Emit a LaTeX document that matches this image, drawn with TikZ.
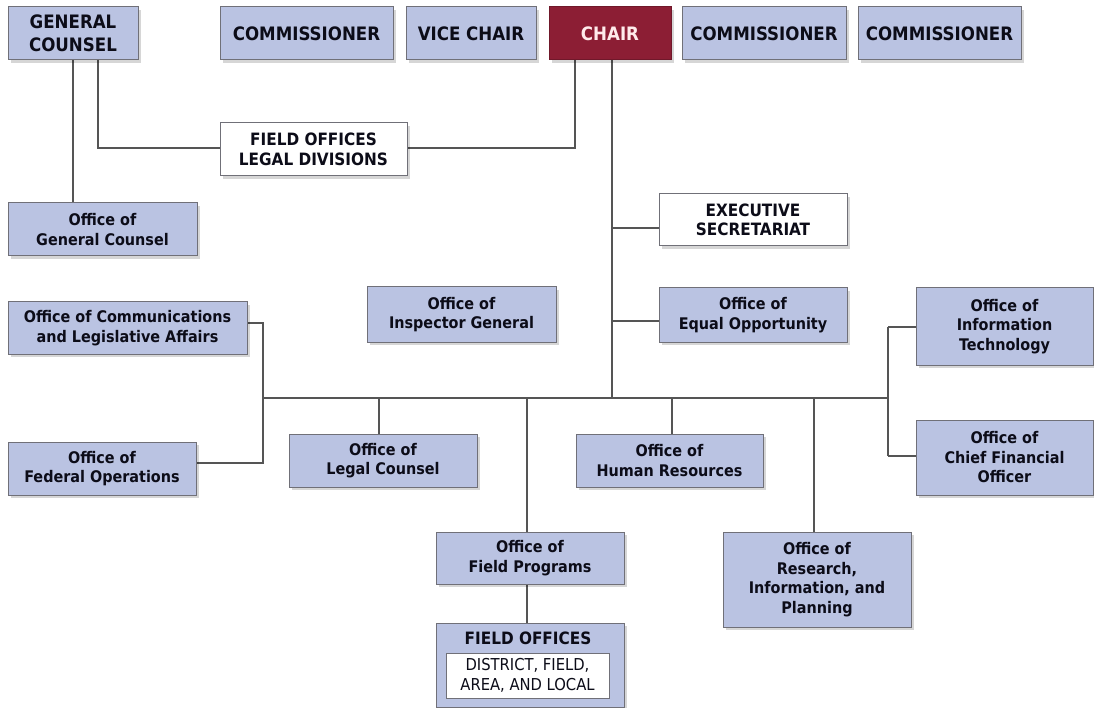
\documentclass[tikz,border=0pt]{standalone}
\usepackage{fontspec}
\setmainfont{DejaVu Sans Condensed}
\usetikzlibrary{shadows}
\definecolor{boxfill}{RGB}{186,195,226}
\definecolor{bordergray}{RGB}{112,112,120}
\definecolor{linegray}{RGB}{85,85,85}
\definecolor{chaircol}{RGB}{140,30,52}
\definecolor{textcol}{RGB}{12,12,24}
\tikzset{
  box/.style={draw=bordergray, line width=1pt, fill=boxfill, align=center,
    inner sep=0pt, text=textcol,
    font=\bfseries\fontsize{16}{19.5}\selectfont,
    drop shadow={shadow xshift=3pt, shadow yshift=-3pt, fill=black, opacity=0.16}},
  capbox/.style={box, font=\bfseries\fontsize{18.5}{23}\selectfont},
  wbox/.style={box, fill=white, font=\bfseries\fontsize{17}{19.5}\selectfont},
  chairbox/.style={capbox, fill=chaircol, draw=chaircol!80!black, text=white!92!red},
  conn/.style={draw=linegray, line width=1.3pt}
}
\begin{document}
\begin{tikzpicture}[x=1pt, y=-1pt]
\useasboundingbox (0,0) rectangle (1094,708);
% coordinates on connectors
\coordinate (busL) at (263,398);
\coordinate (busR) at (888,398);
\coordinate (trunk) at (612,398);
\coordinate (t1) at (612,228);
\coordinate (t2) at (612,321);
\coordinate (lA) at (263,323);
\coordinate (lB) at (263,463);
\coordinate (d1) at (379,398);
\coordinate (d2) at (527,398);
\coordinate (d3) at (672,398);
\coordinate (d4) at (814,398);
\coordinate (rA) at (888,327);
\coordinate (rB) at (888,456);
\coordinate (gcA) at (73,60);
\coordinate (gcB) at (98,60);
\coordinate (chA) at (575,60);
\coordinate (chB) at (612,60);
\coordinate (fpA) at (527,584);

% connectors
\draw[conn] (gcA) -- (gcA |- 0,203);
\draw[conn] (gcB) |- (220,148);
\draw[conn] (chA) |- (407,148);
\draw[conn] (chB) -- (trunk);
\draw[conn] (t1) -- (t1 -| 659,0);
\draw[conn] (t2) -- (t2 -| 659,0);
\draw[conn] (busL) -- (busR);
\draw[conn] (247,323) -- (lA) -- (lB) -- (196,463);
\draw[conn] (rA) -- (rB);
\draw[conn] (916,327) -- (rA);
\draw[conn] (916,456) -- (rB);
\draw[conn] (d1) -- (d1 |- 0,434);
\draw[conn] (d2) -- (d2 |- 0,532);
\draw[conn] (d3) -- (d3 |- 0,434);
\draw[conn] (d4) -- (d4 |- 0,532);
\draw[conn] (fpA) -- (fpA |- 0,623);

% top row
\node[capbox, minimum width=130pt, minimum height=53pt] (gc) at (73,33.5) {GENERAL\\COUNSEL};
\node[capbox, minimum width=173pt, minimum height=53pt] (com1) at (306.5,33.5) {COMMISSIONER};
\node[capbox, minimum width=130pt, minimum height=53pt] (vice) at (471,33.5) {VICE CHAIR};
\node[chairbox, minimum width=122pt, minimum height=53pt] (chair) at (610,33.5) {CHAIR};
\node[capbox, minimum width=164pt, minimum height=53pt] (com2) at (764,33.5) {COMMISSIONER};
\node[capbox, minimum width=163pt, minimum height=53pt] (com3) at (939.5,33.5) {COMMISSIONER};

% second tier
\node[wbox, minimum width=187pt, minimum height=53pt] (flo) at (313.5,149.5) {FIELD OFFICES\\LEGAL DIVISIONS};
\node[box, minimum width=189pt, minimum height=53pt] (ogc) at (102.5,229.5) {Office of\\General Counsel};
\node[wbox, minimum width=188pt, minimum height=52pt] (exec) at (753,220) {EXECUTIVE\\SECRETARIAT};
\node[box, minimum width=188pt, minimum height=54pt] (eeo) at (753,315) {Office of\\Equal Opportunity};
\node[box, minimum width=239pt, minimum height=52pt] (ocla) at (127.5,328) {Office of Communications\\and Legislative Affairs};
\node[box, minimum width=189pt, minimum height=55pt] (oig) at (461.5,314.5) {Office of\\Inspector General};
\node[box, minimum width=177pt, minimum height=77pt] (oit) at (1004.5,326.5) {Office of\\Information\\Technology};

% third tier
\node[box, minimum width=188pt, minimum height=53pt] (ofo) at (102,468.5) {Office of\\Federal Operations};
\node[box, minimum width=188pt, minimum height=53pt] (olc) at (383,460.5) {Office of\\Legal Counsel};
\node[box, minimum width=187pt, minimum height=53pt] (ohr) at (669.5,460.5) {Office of\\Human Resources};
\node[box, minimum width=177pt, minimum height=75pt] (ocfo) at (1004.5,457.5) {Office of\\Chief Financial\\Officer};

% bottom
\node[box, minimum width=188pt, minimum height=52pt] (ofp) at (530,558) {Office of\\Field Programs};
\node[box, minimum width=188pt, minimum height=95pt] (orip) at (817,579.5) {Office of\\Research,\\Information, and\\Planning};
\node[box, minimum width=188pt, minimum height=84pt] (fo) at (530,665) {};
\node[font=\bfseries\fontsize{17}{19.5}\selectfont, text=textcol, inner sep=0pt] (fot) at (528,638) {FIELD OFFICES};
\node[draw=bordergray, line width=0.8pt, fill=white, align=center, inner sep=0pt, text=textcol,
  font=\fontsize{16.4}{20}\selectfont, minimum width=163pt, minimum height=45pt] (foi) at (527.5,675.5) {DISTRICT, FIELD,\\AREA, AND LOCAL};
\end{tikzpicture}
\end{document}
